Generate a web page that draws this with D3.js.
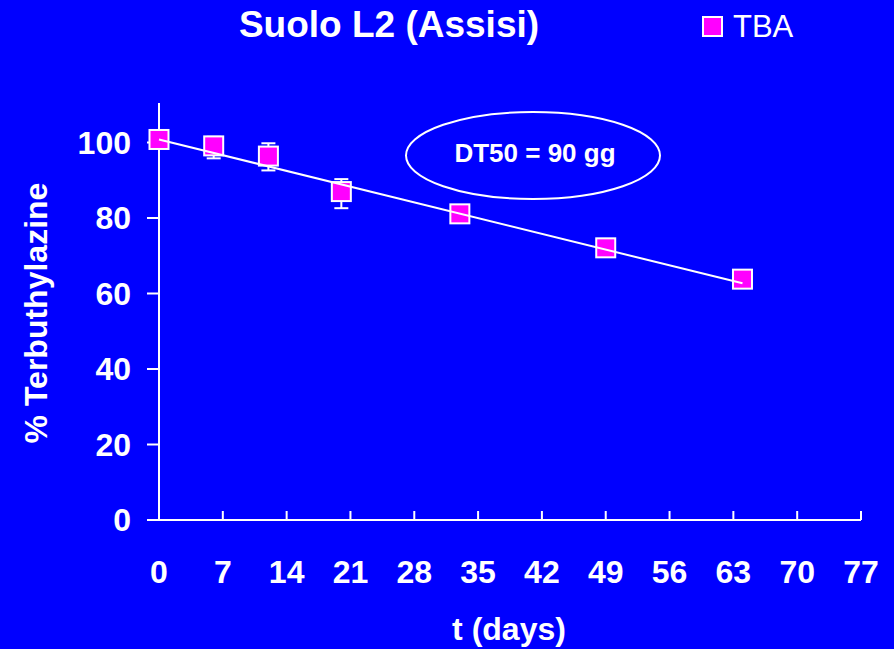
<!DOCTYPE html>
<html>
<head>
<meta charset="utf-8">
<script src="https://cdn.jsdelivr.net/npm/d3@7"></script>
<style>
html,body{margin:0;padding:0;background:#0000FF;}
svg{display:block;}
text{font-family:Arial,"Liberation Sans",sans-serif;fill:#fff;}
</style>
</head>
<body>
<svg id="chart" width="894" height="649"></svg>
<script>
// Data
const days = [0, 6, 12, 20, 33, 49, 64];
const tba = [100.8, 99.1, 96.4, 87.0, 81.1, 72.1, 63.8];
const errLow = [100.8, 95.8, 92.6, 82.6, 79.6, 71.1, 61.5];
const errHigh = [100.8, 101.5, 99.8, 90.3, 82.6, 73.1, 66.0];
const fitDays = [0, 64];
const fitValues = [100.8, 62.7];
const xTicks = [0, 7, 14, 21, 28, 35, 42, 49, 56, 63, 70, 77];
const yTicks = [0, 20, 40, 60, 80, 100];
const titleText = "Suolo L2 (Assisi)";
const legendText = "TBA";
const annotation = "DT50 = 90 gg";
const xTitle = "t (days)";
const yTitle = "% Terbuthylazine";

const svg = d3.select("#chart");
svg.append("rect").attr("width", 894).attr("height", 649).attr("fill", "#0000FF");

const x = d3.scaleLinear().domain([0, 77]).range([159, 861]);
const y = d3.scaleLinear().domain([0, 110]).range([520, 104.75]);

// X axis
const xAxis = svg.append("g").attr("transform", "translate(0,520)");
xAxis.append("line").attr("x1", 147).attr("x2", 861).attr("y1", 0).attr("y2", 0)
  .attr("stroke", "#fff").attr("stroke-width", 2);
xAxis.selectAll("line.tick").data(xTicks.slice(1)).join("line").attr("class", "tick")
  .attr("x1", d => x(d)).attr("x2", d => x(d)).attr("y1", 0).attr("y2", -9)
  .attr("stroke", "#fff").attr("stroke-width", 2);
xAxis.selectAll("text").data(xTicks).join("text")
  .attr("x", d => x(d)).attr("y", 63).attr("text-anchor", "middle")
  .attr("font-size", 32).attr("font-weight", "bold").text(d => d);

// Y axis
const yAxis = svg.append("g").attr("transform", "translate(159,0)");
yAxis.append("line").attr("x1", 0).attr("x2", 0).attr("y1", 103).attr("y2", 520)
  .attr("stroke", "#fff").attr("stroke-width", 2);
yAxis.selectAll("line.tick").data(yTicks.slice(1)).join("line").attr("class", "tick")
  .attr("x1", -12).attr("x2", 0).attr("y1", d => y(d)).attr("y2", d => y(d))
  .attr("stroke", "#fff").attr("stroke-width", 2);
yAxis.selectAll("text").data(yTicks).join("text")
  .attr("x", -28).attr("y", d => y(d) + 11).attr("text-anchor", "end")
  .attr("font-size", 32).attr("font-weight", "bold").text(d => d);

// Titles
svg.append("text").attr("x", 389).attr("y", 37).attr("text-anchor", "middle")
  .attr("font-size", 37).attr("font-weight", "bold").text(titleText);
svg.append("text").attr("transform", "translate(47,313) rotate(-90)").attr("text-anchor", "middle")
  .attr("font-size", 32).attr("font-weight", "bold").text(yTitle);
svg.append("text").attr("x", 509).attr("y", 640).attr("text-anchor", "middle")
  .attr("font-size", 32).attr("font-weight", "bold").text(xTitle);

// Legend
svg.append("rect").attr("x", 703).attr("y", 17).attr("width", 19).attr("height", 19)
  .attr("fill", "#FF00FF").attr("stroke", "#fff").attr("stroke-width", 2);
svg.append("text").attr("x", 733).attr("y", 37).attr("font-size", 31).text(legendText);

// Annotation ellipse
svg.append("ellipse").attr("cx", 533).attr("cy", 155.5).attr("rx", 127).attr("ry", 43.5)
  .attr("fill", "none").attr("stroke", "#fff").attr("stroke-width", 2);
svg.append("text").attr("x", 535).attr("y", 162).attr("text-anchor", "middle")
  .attr("font-size", 26).attr("font-weight", "bold").text(annotation);

// Fit line
const fitData = fitDays.map((d, i) => [d, fitValues[i]]);
const lineGen = d3.line().x(d => x(d[0])).y(d => y(d[1]));

// Error bars
const pts = days.map((d, i) => ({t: d, v: tba[i], lo: errLow[i], hi: errHigh[i]}));
const eb = svg.append("g").attr("stroke", "#fff").attr("stroke-width", 2);
pts.forEach(p => {
  if (p.hi === p.lo) return;
  eb.append("line").attr("x1", x(p.t)).attr("x2", x(p.t)).attr("y1", y(p.lo)).attr("y2", y(p.hi));
  eb.append("line").attr("x1", x(p.t) - 7).attr("x2", x(p.t) + 7).attr("y1", y(p.lo)).attr("y2", y(p.lo));
  eb.append("line").attr("x1", x(p.t) - 7).attr("x2", x(p.t) + 7).attr("y1", y(p.hi)).attr("y2", y(p.hi));
});

// Markers
svg.selectAll("rect.pt").data(pts).join("rect").attr("class", "pt")
  .attr("x", d => x(d.t) - 9.5).attr("y", d => y(d.v) - 9.5)
  .attr("width", 19).attr("height", 19)
  .attr("fill", "#FF00FF").attr("stroke", "#fff").attr("stroke-width", 2);

// Fit line drawn on top of markers (as in reference)
svg.append("path").datum(fitData)
  .attr("d", lineGen)
  .attr("fill", "none").attr("stroke", "#fff").attr("stroke-width", 2);
</script>
</body>
</html>
